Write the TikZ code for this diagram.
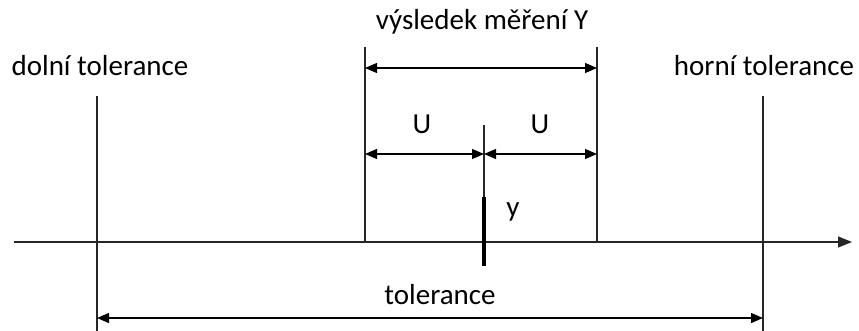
\documentclass[tikz,border=0pt]{standalone}
\usepackage{fontspec}
\setmainfont{Carlito}
\usetikzlibrary{arrows.meta}
\begin{document}
\begin{tikzpicture}[x=1pt,y=-1pt,
  ln/.style={line width=1.2pt,black!85},
  dim/.style={line width=1.3pt,{Triangle[length=12pt,width=10pt]}-{Triangle[length=12pt,width=10pt]}},
  lbl/.style={font=\fontsize{29}{34}\selectfont,inner sep=0pt}]
\useasboundingbox (0,0) rectangle (859,331);
% text labels
\node[lbl] (title) at (482,22) {výsledek měření Y};
\node[lbl] (dolni) at (100,66) {dolní tolerance};
\node[lbl] (horni) at (764,66) {horní tolerance};
\node[lbl] (uL) at (422,124) {U};
\node[lbl] (uR) at (540,124) {U};
\node[lbl] (y) at (513,212) {y};
\node[lbl] (tol) at (440,295) {tolerance};
% coordinates
\coordinate (ax0) at (14,242);
\coordinate (ax1) at (852,242);
\coordinate (tlT) at (97,96);
\coordinate (tlB) at (97,331);
\coordinate (trT) at (763,96);
\coordinate (trB) at (763,331);
\coordinate (mlT) at (365,47);
\coordinate (mlB) at (365,242);
\coordinate (mrT) at (597,47);
\coordinate (mrB) at (597,242);
\coordinate (cT) at (484,125);
\coordinate (cB) at (484,200);
\coordinate (bT) at (484,197);
\coordinate (bB) at (484,266);
\coordinate (a1L) at (365,68);
\coordinate (a1R) at (597,68);
\coordinate (uLL) at (365,154);
\coordinate (uLR) at (484,154);
\coordinate (uRL) at (484,154);
\coordinate (uRR) at (597,154);
\coordinate (tolL) at (97,318);
\coordinate (tolR) at (763,318);
% lines
\draw[ln,-{Triangle[length=14pt,width=11pt]}] (ax0) -- (ax1);
\draw[ln] (tlT) -- (tlB);
\draw[ln] (trT) -- (trB);
\draw[ln] (mlT) -- (mlB);
\draw[ln] (mrT) -- (mrB);
\draw[ln] (cT) -- (cB);
\draw[line width=4.5pt] (bT) -- (bB);
% dimension arrows
\draw[dim] (a1L) -- (a1R);
\draw[dim] (uLL) -- (uLR);
\draw[dim] (uRL) -- (uRR);
\draw[dim] (tolL) -- (tolR);
\end{tikzpicture}
\end{document}
